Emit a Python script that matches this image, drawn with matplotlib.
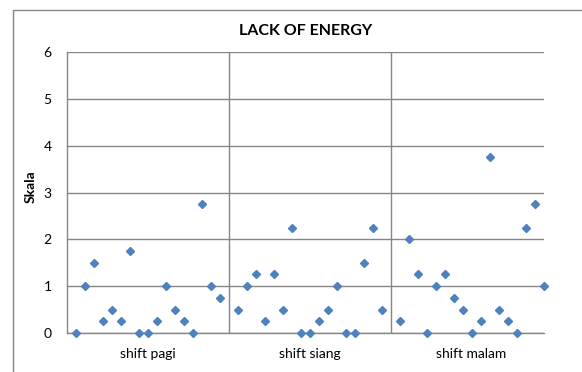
import numpy as np
import matplotlib.pyplot as plt
from matplotlib.patches import Rectangle

plt.rcParams['font.family'] = ['Lato', 'DejaVu Sans']

# skala values per shift, one point per respondent
pagi = [0, 1, 1.5, 0.25, 0.5, 0.25, 1.75, 0, 0, 0.25, 1, 0.5, 0.25, 0, 2.75, 1, 0.75]
siang = [0.5, 1, 1.25, 0.25, 1.25, 0.5, 2.25, 0, 0, 0.25, 0.5, 1, 0, 0, 1.5, 2.25, 0.5]
malam = [0.25, 2, 1.25, 0, 1, 1.25, 0.75, 0.5, 0, 0.25, 3.75, 0.5, 0.25, 0, 2.25, 2.75, 1]
groups = ["shift pagi", "shift siang", "shift malam"]

grid_col = "#868686"
marker_col = "#4F81BD"

fig = plt.figure(figsize=(5.82, 3.72), dpi=100)
ax = fig.add_axes([67/582, 1-333/372, 476.5/582, 281/372])

# each group takes 17 slots, with one empty slot between groups
start = 1
for vals in [pagi, siang, malam]:
	x = np.arange(start, start + len(vals))
	ax.plot(x, vals, linestyle="none", marker="D", markersize=4.2,
		color=marker_col, clip_on=False, zorder=3)
	start += len(vals) + 1

n = len(pagi)
ax.set_xlim(0, 3*n + 2)
ax.set_ylim(0, 6)
ax.set_yticks(range(0, 7))
ax.set_xticks([])
ax.yaxis.grid(True, color=grid_col, linewidth=1)
ax.set_axisbelow(True)
for sp in ["top", "right"]:
	ax.spines[sp].set_visible(False)
for sp in ["left", "bottom"]:
	ax.spines[sp].set_color(grid_col)
	ax.spines[sp].set_linewidth(1)
ax.tick_params(axis="y", length=0, pad=11, labelsize=10)

# dividers between shifts
for k in range(1, 3):
	ax.axvline(k*(n + 1), color=grid_col, linewidth=1, zorder=1)

# group labels under the axis
for k, g in enumerate(groups):
	ax.annotate(g, (k*(n + 1) + (n + 1)/2, 0), xycoords=("data", "axes fraction"),
		xytext=(0, -11), textcoords="offset points", ha="center", va="top", fontsize=10)

ax.set_title("LACK OF ENERGY", fontsize=11.5, fontweight="bold", pad=12)
ax.set_ylabel("Skala", fontsize=10, fontweight="bold")
ax.yaxis.set_label_coords(-0.063, 0.52)

# chart frame
fig.patches.append(Rectangle((12.5/582, -0.1), 1.2, 1.1 - 9.5/372,
	transform=fig.transFigure, fill=False, edgecolor=grid_col, linewidth=1))

fig.savefig("out.png", dpi=100)
